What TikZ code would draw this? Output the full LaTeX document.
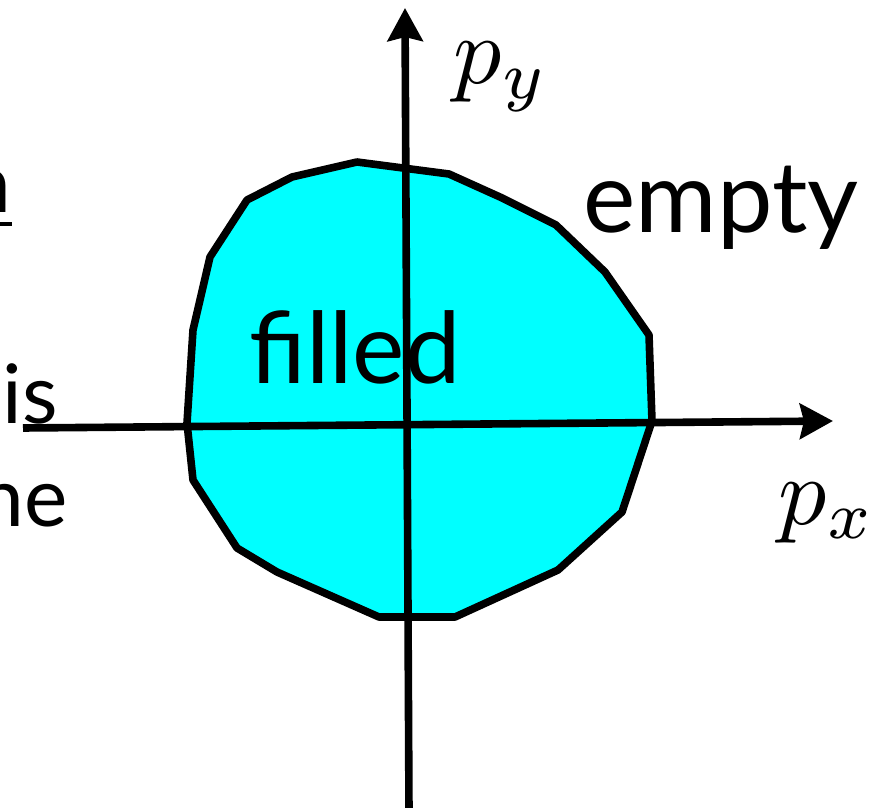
\documentclass[tikz,border=0pt]{standalone}
\usepackage{fontspec}
\setmainfont{Lato}
\usetikzlibrary{arrows.meta}
\definecolor{aqua}{RGB}{0,255,255}
\begin{document}
\begin{tikzpicture}[x=0.5pt,y=-0.5pt,
  axis/.style={line width=3.8pt, -{Stealth[length=16.5pt,width=17.5pt,inset=2pt]}},
  region/.style={fill=aqua, draw=black, line width=3.8pt, line join=round},
  bigtext/.style={inner sep=0pt, anchor=base west, font=\fontsize{49.5}{60}\selectfont},
  sidetext/.style={inner sep=0pt, font=\fontsize{41}{50}\selectfont, anchor=base east},
  mathlabel/.style={inner sep=0pt, scale=4.8, anchor=base west}]
\useasboundingbox (0,0) rectangle (894,808);
% filled region
\draw[region] (357,162) -- (449,174) -- (500,197) -- (556,225) -- (605,272)
  -- (649,335) -- (652,421) -- (622,512) -- (558,570) -- (455,617)
  -- (379,617) -- (277,572) -- (237,548) -- (193,480) -- (187,423)
  -- (193,330) -- (210,257) -- (247,200) -- (292,177) -- cycle;
% axes
\coordinate (xs) at (23,428);
\coordinate (xe) at (833,421);
\coordinate (ys) at (409,812);
\coordinate (ye) at (405,8);
\draw[axis] (xs) -- (xe);
\draw[axis] (ys) -- (ye);
% labels
\node[mathlabel] (py) at (452,84) {$p_y$};
\node[mathlabel] (px) at (777,524) {$p_x$};
\node[bigtext] (empty) at (583,232) {empty};
\node[bigtext] (filled) at (249,383) {filled};
% cropped text at the left edge
\node[sidetext] (tn) at (12,213) {n};
\draw[line width=2pt] (0,224) -- (12,224);
\node[sidetext] (tis) at (58,423) {is};
\node[sidetext] (tne) at (68,526) {ne};
\end{tikzpicture}
\end{document}
